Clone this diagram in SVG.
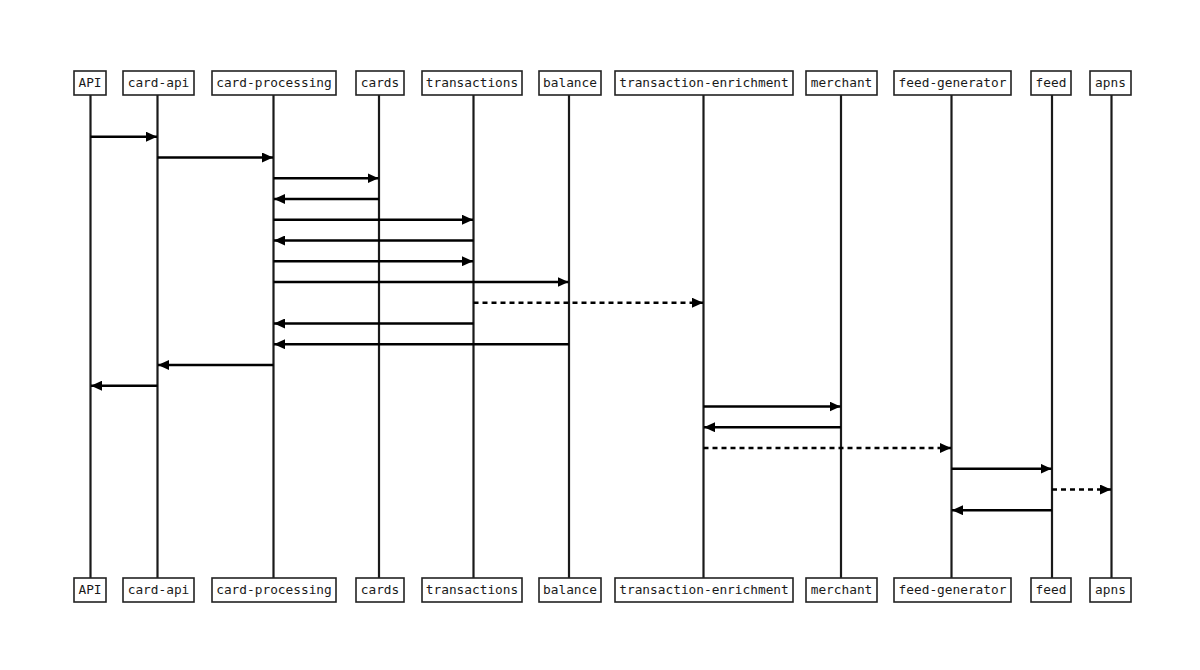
<svg xmlns="http://www.w3.org/2000/svg" width="1200" height="670" viewBox="0 0 1200 670">
<style>
.box{fill:#fff;stroke:#222;stroke-width:1.6}
.lbl{font-family:"DejaVu Sans Mono","Liberation Mono",monospace;font-size:12.8px;fill:#1a1a1a;text-anchor:middle}
.life{stroke:#1a1a1a;stroke-width:2.2}
.msg{stroke:#000;stroke-width:2.5;fill:none}
.dash{stroke-dasharray:5,4}
</style>
<defs>
<marker id="ah" viewBox="0 0 11 10" refX="11" refY="5" markerWidth="11" markerHeight="10" markerUnits="userSpaceOnUse" orient="auto">
<path d="M0,0 L11,5 L0,10 z" fill="#000"/>
</marker>
</defs>
<rect width="1200" height="670" fill="#fff"/>
<g id="lifelines">
<line class="life" x1="90.5" y1="95" x2="90.5" y2="578"/>
<line class="life" x1="157.5" y1="95" x2="157.5" y2="578"/>
<line class="life" x1="273.5" y1="95" x2="273.5" y2="578"/>
<line class="life" x1="379" y1="95" x2="379" y2="578"/>
<line class="life" x1="473.5" y1="95" x2="473.5" y2="578"/>
<line class="life" x1="569" y1="95" x2="569" y2="578"/>
<line class="life" x1="703.5" y1="95" x2="703.5" y2="578"/>
<line class="life" x1="841" y1="95" x2="841" y2="578"/>
<line class="life" x1="951.5" y1="95" x2="951.5" y2="578"/>
<line class="life" x1="1052" y1="95" x2="1052" y2="578"/>
<line class="life" x1="1111.5" y1="95" x2="1111.5" y2="578"/>
</g>
<g id="node-API"><rect class="box" x="74" y="71" width="32" height="24"/><text class="lbl" x="90" y="87">API</text><rect class="box" x="74" y="578" width="32" height="24"/><text class="lbl" x="90" y="594">API</text></g>
<g id="node-card-api"><rect class="box" x="123" y="71" width="71" height="24"/><text class="lbl" x="158.5" y="87">card-api</text><rect class="box" x="123" y="578" width="71" height="24"/><text class="lbl" x="158.5" y="594">card-api</text></g>
<g id="node-card-processing"><rect class="box" x="212" y="71" width="124" height="24"/><text class="lbl" x="274" y="87">card-processing</text><rect class="box" x="212" y="578" width="124" height="24"/><text class="lbl" x="274" y="594">card-processing</text></g>
<g id="node-cards"><rect class="box" x="356" y="71" width="48" height="24"/><text class="lbl" x="380" y="87">cards</text><rect class="box" x="356" y="578" width="48" height="24"/><text class="lbl" x="380" y="594">cards</text></g>
<g id="node-transactions"><rect class="box" x="422" y="71" width="100" height="24"/><text class="lbl" x="472" y="87">transactions</text><rect class="box" x="422" y="578" width="100" height="24"/><text class="lbl" x="472" y="594">transactions</text></g>
<g id="node-balance"><rect class="box" x="539" y="71" width="62" height="24"/><text class="lbl" x="570" y="87">balance</text><rect class="box" x="539" y="578" width="62" height="24"/><text class="lbl" x="570" y="594">balance</text></g>
<g id="node-transaction-enrichment"><rect class="box" x="615" y="71" width="178" height="24"/><text class="lbl" x="704" y="87">transaction-enrichment</text><rect class="box" x="615" y="578" width="178" height="24"/><text class="lbl" x="704" y="594">transaction-enrichment</text></g>
<g id="node-merchant"><rect class="box" x="806" y="71" width="71" height="24"/><text class="lbl" x="841.5" y="87">merchant</text><rect class="box" x="806" y="578" width="71" height="24"/><text class="lbl" x="841.5" y="594">merchant</text></g>
<g id="node-feed-generator"><rect class="box" x="894" y="71" width="117" height="24"/><text class="lbl" x="952.5" y="87">feed-generator</text><rect class="box" x="894" y="578" width="117" height="24"/><text class="lbl" x="952.5" y="594">feed-generator</text></g>
<g id="node-feed"><rect class="box" x="1031" y="71" width="40" height="24"/><text class="lbl" x="1051" y="87">feed</text><rect class="box" x="1031" y="578" width="40" height="24"/><text class="lbl" x="1051" y="594">feed</text></g>
<g id="node-apns"><rect class="box" x="1090" y="71" width="41" height="24"/><text class="lbl" x="1110.5" y="87">apns</text><rect class="box" x="1090" y="578" width="41" height="24"/><text class="lbl" x="1110.5" y="594">apns</text></g>
<g id="connectors" marker-end="url(#ah)">
<line class="msg" x1="90.5" y1="136.7" x2="157" y2="136.7"/>
<line class="msg" x1="157.5" y1="157.5" x2="273" y2="157.5"/>
<line class="msg" x1="273.5" y1="178.2" x2="378.5" y2="178.2"/>
<line class="msg" x1="379" y1="199" x2="274" y2="199"/>
<line class="msg" x1="273.5" y1="219.7" x2="473" y2="219.7"/>
<line class="msg" x1="473.5" y1="240.5" x2="274" y2="240.5"/>
<line class="msg" x1="273.5" y1="261.2" x2="473" y2="261.2"/>
<line class="msg" x1="273.5" y1="282" x2="568.5" y2="282"/>
<line class="msg dash" x1="473.5" y1="302.7" x2="703" y2="302.7"/>
<line class="msg" x1="473.5" y1="323.5" x2="274" y2="323.5"/>
<line class="msg" x1="569" y1="344.2" x2="274" y2="344.2"/>
<line class="msg" x1="273.5" y1="365" x2="158" y2="365"/>
<line class="msg" x1="157.5" y1="385.7" x2="91" y2="385.7"/>
<line class="msg" x1="703.5" y1="406.5" x2="840.5" y2="406.5"/>
<line class="msg" x1="841" y1="427.2" x2="704" y2="427.2"/>
<line class="msg dash" x1="703.5" y1="448" x2="951" y2="448"/>
<line class="msg" x1="951.5" y1="468.7" x2="1051.5" y2="468.7"/>
<line class="msg dash" x1="1052" y1="489.5" x2="1111" y2="489.5"/>
<line class="msg" x1="1052" y1="510.2" x2="952" y2="510.2"/>
</g>
</svg>
